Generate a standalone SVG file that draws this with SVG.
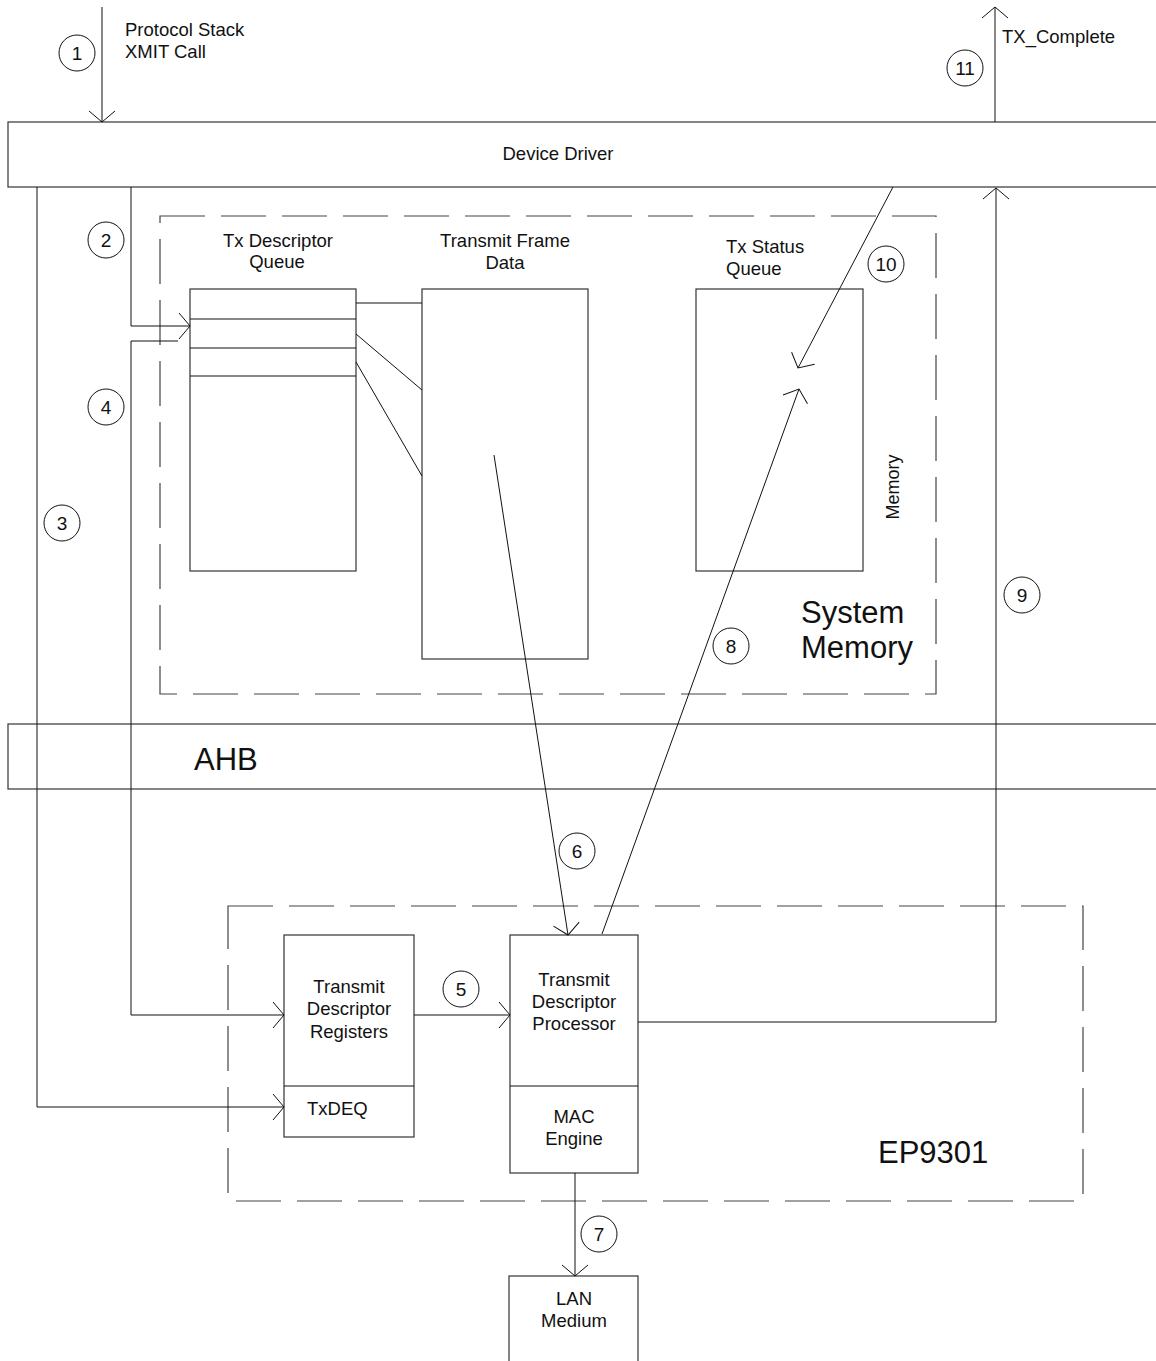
<svg xmlns="http://www.w3.org/2000/svg" width="1156" height="1361" viewBox="0 0 1156 1361">
<style>
text{font-family:"Liberation Sans",Arial,sans-serif;fill:#111;}
.t{font-size:18.5px;}
.c{text-anchor:middle;}
.big{font-size:31px;}
.rot{font-size:18px;text-anchor:middle;}
.box{fill:none;stroke:#333;stroke-width:1.2;}
.dash{fill:none;stroke:#444;stroke-width:1.2;stroke-dasharray:45 16;}
.ln{fill:none;stroke:#111;stroke-width:1;}
.circ{fill:none;stroke:#111;stroke-width:1;}
.num{font-size:19px;text-anchor:middle;}
</style>
<defs>
<marker id="arr" markerUnits="userSpaceOnUse" orient="auto" viewBox="-13 -15 15 30" refX="0" refY="0" markerWidth="15" markerHeight="30" overflow="visible">
<path d="M-11,-13 L0,0 L-11,13" fill="none" stroke="#111" stroke-width="1"/>
</marker>
</defs>
<rect width="1156" height="1361" fill="#fff"/>

<g id="system-memory">
<rect class="dash" x="160" y="216" width="776" height="478"/>
<text class="big" x="801" y="623">System</text>
<text class="big" x="801" y="658">Memory</text>
<text class="rot" transform="translate(899,487) rotate(-90)">Memory</text>
</g>

<g id="ep9301">
<rect class="dash" x="228" y="906" width="855" height="295"/>
<text class="big" x="878" y="1163">EP9301</text>
</g>

<g id="device-driver">
<rect class="box" x="8" y="122" width="1160" height="65"/>
<text class="t c" x="558" y="160">Device Driver</text>
</g>

<g id="ahb">
<rect class="box" x="8" y="724" width="1160" height="65"/>
<text class="big" x="194" y="770">AHB</text>
</g>

<g id="tx-descriptor-queue">
<rect class="box" x="190" y="289" width="166" height="282"/>
<line class="ln" x1="190" y1="319" x2="356" y2="319"/>
<line class="ln" x1="190" y1="348" x2="356" y2="348"/>
<line class="ln" x1="190" y1="376" x2="356" y2="376"/>
<text class="t c" x="278" y="247">Tx Descriptor</text>
<text class="t c" x="277" y="268">Queue</text>
</g>

<g id="transmit-frame-data">
<rect class="box" x="422" y="289" width="166" height="370"/>
<text class="t c" x="505" y="247">Transmit Frame</text>
<text class="t c" x="505" y="269">Data</text>
</g>

<g id="tx-status-queue">
<rect class="box" x="696" y="289" width="167" height="282"/>
<text class="t" x="726" y="253">Tx Status</text>
<text class="t" x="726" y="275">Queue</text>
</g>

<g id="transmit-descriptor-registers">
<rect class="box" x="284" y="935" width="130" height="202"/>
<line class="ln" x1="284" y1="1086" x2="414" y2="1086"/>
<text class="t c" x="349" y="993">Transmit</text>
<text class="t c" x="349" y="1015">Descriptor</text>
<text class="t c" x="349" y="1038">Registers</text>
<text class="t" x="307" y="1115">TxDEQ</text>
</g>

<g id="transmit-descriptor-processor">
<rect class="box" x="510" y="935" width="128" height="238"/>
<line class="ln" x1="510" y1="1086" x2="638" y2="1086"/>
<text class="t c" x="574" y="986">Transmit</text>
<text class="t c" x="574" y="1008">Descriptor</text>
<text class="t c" x="574" y="1030">Processor</text>
<text class="t c" x="574" y="1123">MAC</text>
<text class="t c" x="574" y="1145">Engine</text>
</g>

<g id="lan-medium">
<rect class="box" x="509" y="1276" width="129" height="100"/>
<text class="t c" x="574" y="1305">LAN</text>
<text class="t c" x="574" y="1327">Medium</text>
</g>

<g id="connectors">
<line class="ln" x1="102" y1="7" x2="102" y2="122" marker-end="url(#arr)"/>
<line class="ln" x1="995" y1="122" x2="995" y2="7" marker-end="url(#arr)"/>
<polyline class="ln" points="131,187 131,326 190,326" marker-end="url(#arr)"/>
<polyline class="ln" points="178,341 131,341 131,1015 284,1015" marker-end="url(#arr)"/>
<polyline class="ln" points="37,187 37,1107 284,1107" marker-end="url(#arr)"/>
<line class="ln" x1="414" y1="1015" x2="510" y2="1015" marker-end="url(#arr)"/>
<line class="ln" x1="356" y1="303" x2="422" y2="303"/>
<line class="ln" x1="356" y1="334" x2="422" y2="390"/>
<line class="ln" x1="356" y1="362" x2="422" y2="476"/>
<line class="ln" x1="494" y1="455" x2="568" y2="935" marker-end="url(#arr)"/>
<line class="ln" x1="602" y1="934" x2="799" y2="389" marker-end="url(#arr)"/>
<line class="ln" x1="893" y1="187" x2="798" y2="368" marker-end="url(#arr)"/>
<polyline class="ln" points="638,1022 996,1022 996,188" marker-end="url(#arr)"/>
<line class="ln" x1="575" y1="1173" x2="575" y2="1276" marker-end="url(#arr)"/>
</g>

<g id="labels">
<text class="t" x="125" y="36">Protocol Stack</text>
<text class="t" x="125" y="58">XMIT Call</text>
<text class="t" x="1002" y="43">TX_Complete</text>
</g>

<g id="step-markers">
<circle class="circ" cx="77" cy="53" r="18"/><text class="num" x="77" y="60">1</text>
<circle class="circ" cx="106" cy="240" r="18"/><text class="num" x="106" y="247">2</text>
<circle class="circ" cx="62" cy="523" r="18"/><text class="num" x="62" y="530">3</text>
<circle class="circ" cx="106" cy="407" r="18"/><text class="num" x="106" y="414">4</text>
<circle class="circ" cx="461" cy="989" r="18"/><text class="num" x="461" y="996">5</text>
<circle class="circ" cx="577" cy="851" r="18"/><text class="num" x="577" y="858">6</text>
<circle class="circ" cx="599" cy="1234" r="18"/><text class="num" x="599" y="1241">7</text>
<circle class="circ" cx="731" cy="646" r="18"/><text class="num" x="731" y="653">8</text>
<circle class="circ" cx="1022" cy="595" r="18"/><text class="num" x="1022" y="602">9</text>
<circle class="circ" cx="886" cy="264" r="18"/><text class="num" x="886" y="271">10</text>
<circle class="circ" cx="965" cy="68" r="18"/><text class="num" x="965" y="75">11</text>
</g>
</svg>
